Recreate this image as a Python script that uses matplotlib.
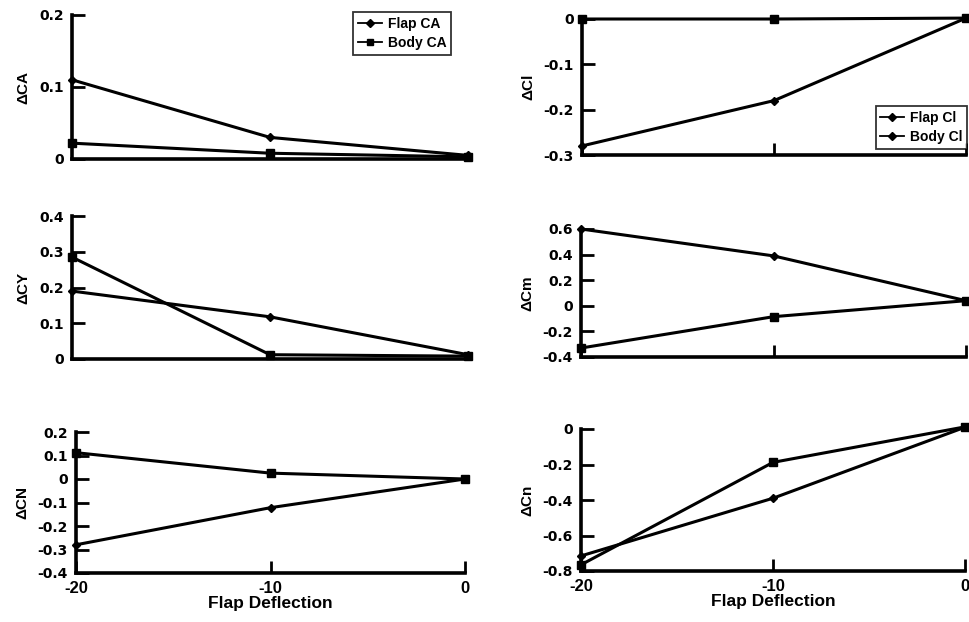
import matplotlib
matplotlib.use("Agg")
import matplotlib.pyplot as plt
from matplotlib.lines import Line2D

plt.rcParams['font.family'] = ['Liberation Sans', 'DejaVu Sans']
plt.rcParams['font.weight'] = 'bold'

deflection = [-20, -10, 0]

flap_CA = [0.110, 0.030, 0.005]
body_CA = [0.022, 0.008, 0.003]

flap_Cl = [-0.280, -0.180, 0.002]
body_Cl = [0.000, 0.000, 0.002]

flap_CY = [0.190, 0.118, 0.012]
body_CY = [0.285, 0.012, 0.008]

flap_Cm = [0.600, 0.390, 0.040]
body_Cm = [-0.330, -0.085, 0.040]

flap_CN = [-0.280, -0.122, 0.000]
body_CN = [0.112, 0.025, 0.000]

flap_Cn = [-0.715, -0.390, 0.010]
body_Cn = [-0.765, -0.188, 0.012]

xticks = [-20, -10, 0]
xtick_labels = ['-20', '-10', '0']

fig = plt.figure(figsize=(9.69, 6.22), dpi=100)

W, H = 969.0, 622.0

def make_ax(x0, x1, ytop, ybot):
    return fig.add_axes([x0 / W, 1 - ybot / H, (x1 - x0) / W, (ybot - ytop) / H])

panels = [
    # (x0, x1, ytop, ybot, flap, body, ylabel, ylim, yticks, ytick labels, show x labels, show x ticks)
    (72, 468, 15, 159, flap_CA, body_CA, '\u0394CA', (0, 0.2), [0, 0.1, 0.2], ['0', '0.1', '0.2'], False, False),
    (582, 966, 19, 155, flap_Cl, body_Cl, '\u0394Cl', (-0.3, 0), [-0.3, -0.2, -0.1, 0], ['-0.3', '-0.2', '-0.1', '0'], False, True),
    (72, 468, 216, 359, flap_CY, body_CY, '\u0394CY', (0, 0.4), [0, 0.1, 0.2, 0.3, 0.4], ['0', '0.1', '0.2', '0.3', '0.4'], False, False),
    (581, 966, 229, 357, flap_Cm, body_Cm, '\u0394Cm', (-0.4, 0.6), [-0.4, -0.2, 0, 0.2, 0.4, 0.6], ['-0.4', '-0.2', '0', '0.2', '0.4', '0.6'], False, True),
    (76, 465, 432, 573, flap_CN, body_CN, '\u0394CN', (-0.4, 0.2), [-0.4, -0.3, -0.2, -0.1, 0, 0.1, 0.2], ['-0.4', '-0.3', '-0.2', '-0.1', '0', '0.1', '0.2'], True, True),
    (581, 965, 429, 571, flap_Cn, body_Cn, '\u0394Cn', (-0.8, 0), [-0.8, -0.6, -0.4, -0.2, 0], ['-0.8', '-0.6', '-0.4', '-0.2', '0'], True, True),
]

ytick_font = {'family': ['DejaVu Sans'], 'weight': 'bold', 'size': 10}

axes = []
for (x0, x1, yt, yb, fl, bd, ylab, ylim, yt_, ytl, showx, showxt) in panels:
    ax = make_ax(x0, x1, yt, yb)
    axes.append(ax)
    ax.plot(deflection, fl, color='black', lw=2.2, marker='D', ms=4,
            clip_on=False, zorder=3)
    ax.plot(deflection, bd, color='black', lw=2.2, marker='s', ms=5.5,
            clip_on=False, zorder=3)
    ax.set_xlim(-20, 0)
    ax.set_ylim(*ylim)
    ax.set_yticks(yt_)
    ax.set_yticklabels(ytl, fontdict=ytick_font)
    if showxt:
        ax.set_xticks(xticks)
    else:
        ax.set_xticks([])
    if showx:
        ax.set_xticklabels(xtick_labels, fontsize=12, fontweight='bold')
        ax.set_xlabel('Flap Deflection', fontsize=12.5, fontweight='bold', labelpad=0)
    else:
        ax.set_xticklabels([])
    ax.spines['top'].set_visible(False)
    ax.spines['right'].set_visible(False)
    ax.spines['left'].set_linewidth(2.6)
    ax.spines['bottom'].set_linewidth(2.6)
    ax.tick_params(axis='both', direction='in', length=9, width=2, pad=6)
    ax.set_ylabel(ylab, fontsize=11, fontweight='bold', labelpad=6)
    ax.patch.set_visible(False)

leg_kw = dict(bbox_transform=fig.transFigure,
              prop={'weight': 'bold', 'size': 10}, frameon=True,
              fancybox=False, edgecolor='black', handlelength=1.7,
              handletextpad=0.4, borderpad=0.35, labelspacing=0.35,
              borderaxespad=0)

h1 = Line2D([], [], color='black', lw=1.3, marker='D', ms=4)
h2 = Line2D([], [], color='black', lw=1.3, marker='s', ms=5)
leg1 = axes[0].legend([h1, h2], ['Flap CA', 'Body CA'], loc='upper right',
                      bbox_to_anchor=(451 / W, 1 - 12 / H), **leg_kw)
leg1.get_frame().set_linewidth(1.3)

h_a = Line2D([], [], color='black', lw=1.3, marker='D', ms=4)
h_b = Line2D([], [], color='black', lw=1.3, marker='D', ms=4)
leg2 = axes[1].legend([h_a, h_b], ['Flap Cl', 'Body Cl'], loc='upper right',
                      bbox_to_anchor=(967 / W, 1 - 106 / H), **leg_kw)
leg2.get_frame().set_linewidth(1.3)

fig.savefig('out.png', dpi=100)
